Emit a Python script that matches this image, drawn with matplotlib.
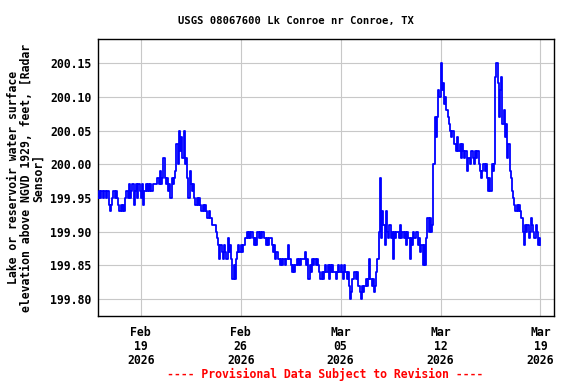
"""Lake Conroe gage height plot, USGS-style."""
import matplotlib

matplotlib.use("Agg")
import matplotlib.dates as mdates
import matplotlib.pyplot as plt
import pandas as pd

TITLE = "USGS 08067600 Lk Conroe nr Conroe, TX"
Y_LABEL = "Lake or reservoir water surface\nelevation above NGVD 1929, feet, [Radar\nSensor]"
FOOTER = "---- Provisional Data Subject to Revision ----"

START = "2026-02-16 00:00"
STEP = "2h"

# water surface elevation, feet; one row per day, 2-hour readings
feb16 = [199.95, 199.96, 199.95, 199.96, 199.95, 199.96, 199.96, 199.95, 199.96, 199.94, 199.93, 199.94]
feb17 = [199.95, 199.96, 199.95, 199.96, 199.95, 199.94, 199.93, 199.94, 199.93, 199.94, 199.93, 199.95]
feb18 = [199.96, 199.95, 199.97, 199.95, 199.96, 199.97, 199.94, 199.96, 199.97, 199.95, 199.97, 199.96]
feb19 = [199.95, 199.97, 199.94, 199.96, 199.97, 199.96, 199.97, 199.96, 199.97, 199.96, 199.97, 199.97]
feb20 = [199.97, 199.97, 199.98, 199.97, 199.99, 199.97, 199.98, 200.01, 199.98, 199.97, 199.98, 199.96]
feb21 = [199.97, 199.95, 199.98, 199.97, 199.98, 199.99, 200.03, 200.00, 200.05, 200.02, 200.04, 200.01]
feb22 = [200.05, 200.00, 200.01, 199.98, 199.95, 199.99, 199.97, 199.96, 199.97, 199.95, 199.94, 199.95]
feb23 = [199.94, 199.95, 199.94, 199.93, 199.94, 199.93, 199.94, 199.93, 199.92, 199.93, 199.92, 199.92]
feb24 = [199.91, 199.91, 199.91, 199.90, 199.89, 199.88, 199.86, 199.88, 199.87, 199.86, 199.88, 199.87]
feb25 = [199.86, 199.89, 199.87, 199.88, 199.86, 199.83, 199.85, 199.83, 199.86, 199.87, 199.88, 199.87]
feb26 = [199.88, 199.87, 199.88, 199.88, 199.89, 199.90, 199.89, 199.90, 199.89, 199.90, 199.89, 199.88]
feb27 = [199.89, 199.88, 199.90, 199.89, 199.90, 199.89, 199.90, 199.90, 199.89, 199.88, 199.89, 199.88]
feb28 = [199.89, 199.89, 199.88, 199.87, 199.88, 199.86, 199.87, 199.86, 199.86, 199.85, 199.86, 199.85]
mar01 = [199.86, 199.85, 199.86, 199.86, 199.88, 199.86, 199.85, 199.84, 199.85, 199.84, 199.85, 199.86]
mar02 = [199.85, 199.86, 199.85, 199.86, 199.86, 199.86, 199.87, 199.85, 199.86, 199.83, 199.85, 199.84]
mar03 = [199.86, 199.85, 199.86, 199.85, 199.86, 199.85, 199.84, 199.83, 199.84, 199.83, 199.84, 199.85]
mar04 = [199.84, 199.85, 199.83, 199.85, 199.84, 199.85, 199.84, 199.84, 199.83, 199.84, 199.85, 199.84]
mar05 = [199.85, 199.84, 199.83, 199.85, 199.84, 199.83, 199.84, 199.82, 199.80, 199.81, 199.83, 199.84]
mar06 = [199.84, 199.83, 199.84, 199.82, 199.81, 199.80, 199.82, 199.81, 199.82, 199.83, 199.82, 199.83]
mar07 = [199.86, 199.83, 199.82, 199.83, 199.81, 199.82, 199.84, 199.86, 199.90, 199.98, 199.89, 199.93]
mar08 = [199.91, 199.88, 199.93, 199.90, 199.89, 199.91, 199.89, 199.90, 199.86, 199.90, 199.89, 199.90]
mar09 = [199.90, 199.89, 199.91, 199.89, 199.90, 199.89, 199.90, 199.88, 199.90, 199.89, 199.86, 199.89]
mar10 = [199.88, 199.90, 199.89, 199.90, 199.90, 199.88, 199.89, 199.87, 199.88, 199.85, 199.88, 199.85]
mar11 = [199.89, 199.92, 199.90, 199.92, 199.90, 199.91, 200.00, 200.07, 200.04, 200.07, 200.11, 200.10]
mar12 = [200.15, 200.11, 200.12, 200.09, 200.10, 200.08, 200.07, 200.06, 200.05, 200.04, 200.05, 200.03]
mar13 = [200.03, 200.02, 200.04, 200.02, 200.03, 200.01, 200.03, 200.02, 200.01, 200.02, 199.99, 200.01]
mar14 = [200.01, 200.00, 200.02, 200.01, 200.00, 200.02, 200.01, 200.02, 200.00, 199.99, 199.98, 199.99]
mar15 = [200.00, 199.99, 200.00, 199.98, 199.96, 199.98, 199.96, 200.00, 199.99, 200.00, 200.13, 200.15]
mar16 = [200.12, 200.07, 200.11, 200.13, 200.06, 200.08, 200.04, 200.06, 200.01, 200.03, 199.99, 199.98]
mar17 = [199.96, 199.95, 199.94, 199.93, 199.94, 199.93, 199.94, 199.93, 199.92, 199.90, 199.88, 199.91]
mar18 = [199.90, 199.91, 199.89, 199.90, 199.92, 199.91, 199.90, 199.89, 199.91, 199.90, 199.88, 199.89]
mar19 = [199.88]

DAYS = [feb16, feb17, feb18, feb19, feb20, feb21, feb22, feb23, feb24, feb25, feb26,
        feb27, feb28, mar01, mar02, mar03, mar04, mar05, mar06, mar07, mar08, mar09,
        mar10, mar11, mar12, mar13, mar14, mar15, mar16, mar17, mar18, mar19]

Y_TICKS = [199.80, 199.85, 199.90, 199.95, 200.00, 200.05, 200.10, 200.15]
X_TICKS = ["2026-02-19", "2026-02-26", "2026-03-05", "2026-03-12", "2026-03-19"]

MONO = "DejaVu Sans Mono"


def main() -> None:
    values = [v for day in DAYS for v in day]
    times = pd.date_range(START, periods=len(values), freq=STEP)

    fig = plt.figure(figsize=(5.76, 3.84), dpi=100)
    ax = fig.add_axes([0.170, 0.177, 0.792, 0.721])

    ax.plot(times, values, color="#0000ff", linewidth=1.3, drawstyle="steps-post", zorder=3)

    ax.set_xlim(pd.Timestamp("2026-02-16 00:00"), pd.Timestamp("2026-03-19 23:00"))
    ax.set_ylim(199.7747, 200.1857)
    ax.set_yticks(Y_TICKS)
    ax.set_yticklabels([f"{t:.2f}" for t in Y_TICKS])
    ax.set_xticks(pd.to_datetime(X_TICKS))
    ax.xaxis.set_major_formatter(mdates.DateFormatter("%b\n%d\n%Y"))

    ax.grid(True, color="#c8c8c8", linewidth=0.8, zorder=0)
    ax.set_axisbelow(True)
    ax.tick_params(length=0, labelsize=8.3)
    ax.tick_params(axis="y", pad=4.5)
    ax.tick_params(axis="x", pad=7)
    for lab in ax.get_xticklabels() + ax.get_yticklabels():
        lab.set_family(MONO)
        lab.set_weight("bold")
    for lab in ax.get_xticklabels():
        lab.set_linespacing(1.1)
        lab.set_multialignment("center")
    for spine in ax.spines.values():
        spine.set_linewidth(1.0)
        spine.set_color("black")

    ax.set_ylabel(Y_LABEL, family=MONO, weight="bold", fontsize=8.3,
                  linespacing=0.95, multialignment="center")
    ax.yaxis.set_label_coords(-0.116, 0.5)

    fig.text(0.514, 0.945, TITLE, ha="center", va="center",
             family=MONO, weight="bold", fontsize=7.6)
    fig.text(0.564, 0.026, FOOTER, ha="center", va="center",
             family=MONO, weight="bold", fontsize=8.3, color="#ff0000")

    fig.savefig("out.png", dpi=100)
    plt.close(fig)


if __name__ == "__main__":
    main()
